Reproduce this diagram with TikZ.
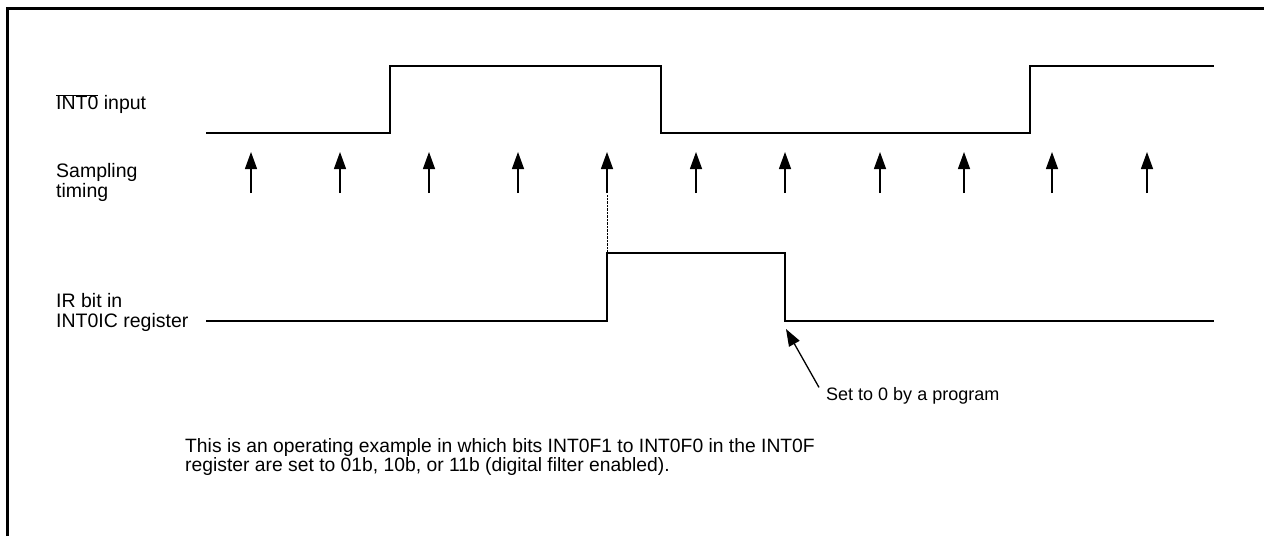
\documentclass[tikz,border=0pt]{standalone}
\usepackage{fontspec}
\setmainfont{Liberation Sans}
\usetikzlibrary{arrows.meta}
\begin{document}
\begin{tikzpicture}[
        x=1pt, y=-1pt,
        frame/.style={line width=3pt},
        signal/.style={line width=1.4pt},
        sample/.style={-{Triangle[length=17pt,width=12pt]}, line width=1.3pt},
        pointer/.style={-{Triangle[length=17pt,width=12pt]}, line width=1.3pt},
        label/.style={anchor=west, align=left, inner sep=0pt},
        every node/.style={font=\fontsize{19.5}{20}\selectfont}
      ]
      \useasboundingbox (0,0) rectangle (1264,536);
      \draw[frame] (7,536) -- (7,8.5) -- (1264,8.5);
      \node[label] (int) at (56,104) {$\overline{\mbox{INT0}}$ input};
      \node[label] (smp) at (56,182) {Sampling\\timing};
      \node[label] (ir) at (56,312) {IR bit in\\INT0IC register};
      \draw[signal] (206,133) -- (390,133) -- (390,66) -- (661,66) -- (661,133) -- (1030,133) -- (1030,66) -- (1214,66);
      \draw[sample] (251,193) -- (251,152);
      \draw[sample] (340,193) -- (340,152);
      \draw[sample] (429,193) -- (429,152);
      \draw[sample] (518,193) -- (518,152);
      \draw[sample] (607,193) -- (607,152);
      \draw[sample] (696,193) -- (696,152);
      \draw[sample] (785,193) -- (785,152);
      \draw[sample] (880,193) -- (880,152);
      \draw[sample] (964,193) -- (964,152);
      \draw[sample] (1052,193) -- (1052,152);
      \draw[sample] (1147,193) -- (1147,152);
      \draw[densely dotted] (607,195) -- (607,253);
      \draw[signal] (206,321) -- (607,321) -- (607,253) -- (785,253) -- (785,321) -- (1214,321);
      \coordinate (irfall) at (786,329);
      \node[label, font=\fontsize{18}{20}\selectfont] (setzero) at (826,396) {Set to 0 by a program};
      \draw[pointer] ([xshift=-7pt]setzero.north west) -- (irfall);
      \node[label, font=\fontsize{19.3}{19.5}\selectfont] (remark) at (185,457) {This is an operating example in which bits INT0F1 to INT0F0 in the INT0F\\register are set to 01b, 10b, or 11b (digital filter enabled).};
    \end{tikzpicture}
\end{document}
